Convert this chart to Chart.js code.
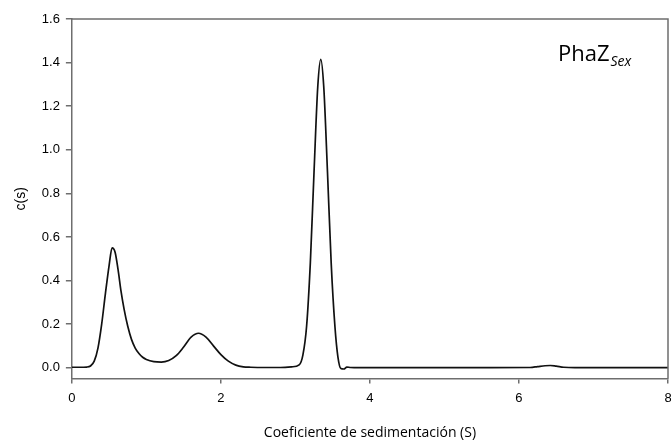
<!DOCTYPE html>
<html>
<head>
<meta charset="utf-8">
<script src="https://cdn.jsdelivr.net/npm/chart.js@4.4.1/dist/chart.umd.min.js"></script>
<style>
  html, body { margin: 0; padding: 0; background: #fff; }
  #wrap { width: 671px; height: 441px; }
</style>
</head>
<body>
<div id="wrap"><canvas id="myChart"></canvas></div>
<script>
// sedimentation coefficient (S) and c(s)
var sValues = [0.00, 0.10, 0.20, 0.25, 0.30, 0.35, 0.40, 0.45, 0.50, 0.54, 0.58, 0.62, 0.66, 0.70, 0.75, 0.80, 0.85, 0.90, 0.95, 1.00, 1.10, 1.20, 1.30, 1.40, 1.50, 1.60, 1.70, 1.80, 1.90, 2.00, 2.10, 2.20, 2.30, 2.40, 2.60, 2.80, 2.95, 3.05, 3.10, 3.15, 3.20, 3.25, 3.30, 3.34, 3.38, 3.43, 3.48, 3.53, 3.57, 3.61, 3.65, 3.69, 3.74, 3.85, 4.50, 5.50, 6.15, 6.25, 6.35, 6.42, 6.50, 6.60, 6.75, 7.50, 8.00];
var cValues = [0.002, 0.002, 0.003, 0.008, 0.03, 0.09, 0.20, 0.34, 0.47, 0.55, 0.53, 0.45, 0.35, 0.27, 0.19, 0.13, 0.09, 0.065, 0.048, 0.038, 0.028, 0.026, 0.033, 0.055, 0.095, 0.14, 0.158, 0.14, 0.10, 0.06, 0.03, 0.012, 0.004, 0.002, 0.001, 0.001, 0.004, 0.013, 0.058, 0.19, 0.48, 0.90, 1.29, 1.415, 1.29, 0.90, 0.48, 0.19, 0.05, -0.004, -0.006, 0.003, 0.001, 0.000, 0.000, 0.000, 0.001, 0.005, 0.009, 0.010, 0.007, 0.002, 0.000, 0.000, 0.000];

var xTicks = [0, 2, 4, 6, 8];
var yTicks = [0.0, 0.2, 0.4, 0.6, 0.8, 1.0, 1.2, 1.4, 1.6];

var axisGrey = '#6e6e6e';

// frame on top and right + the PhaZ(Sex) label
var framePlugin = {
    id: 'frame',
    afterDraw: function (chart) {
        var c = chart.ctx, a = chart.chartArea;
        c.save();
        c.strokeStyle = axisGrey;
        c.lineWidth = 1.5;
        c.beginPath();
        c.moveTo(a.left, a.top);
        c.lineTo(a.right, a.top);
        c.lineTo(a.right, a.bottom);
        c.stroke();
        c.fillStyle = '#000';
        c.textBaseline = 'alphabetic';
        c.font = '22px "Open Sans"';
        c.fillText('PhaZ', 558, 61);
        var w = c.measureText('PhaZ').width;
        c.font = 'italic 14px "Open Sans"';
        c.fillText('Sex', 558 + w + 1, 66);
        c.restore();
    }
};

var ctx = document.getElementById('myChart').getContext('2d');
var myChart = new Chart(ctx, {
    type: 'line',
    data: {
        datasets: [{
            data: sValues.map(function (s, i) { return { x: s, y: cValues[i] }; }),
            borderColor: '#111',
            borderWidth: 1.7,
            pointRadius: 0,
            fill: false,
            cubicInterpolationMode: 'monotone'
        }]
    },
    options: {
        responsive: true,
        maintainAspectRatio: false,
        animation: false,
        layout: { padding: { left: 13, top: 19, right: 3, bottom: 0 } },
        plugins: { legend: { display: false }, tooltip: { enabled: false } },
        scales: {
            x: {
                type: 'linear',
                min: 0,
                max: 8,
                afterBuildTicks: function (scale) { scale.ticks = xTicks.map(function (v) { return { value: v }; }); },
                // let the "8" run off the edge like the original
                afterFit: function (scale) { scale.paddingLeft = 0; scale.paddingRight = 0; },
                grid: { drawOnChartArea: false, drawTicks: true, tickLength: 5, color: axisGrey, lineWidth: 1.5 },
                border: { display: true, color: axisGrey, width: 1.5 },
                ticks: { color: '#000', font: { family: 'Liberation Sans', size: 13 }, padding: 7, maxRotation: 0 },
                title: { display: true, text: 'Coeficiente de sedimentación (S)', color: '#000', font: { family: 'Open Sans', size: 14 }, padding: { top: 11, bottom: 0 } }
            },
            y: {
                min: -0.05,
                max: 1.6,
                afterBuildTicks: function (scale) { scale.ticks = yTicks.map(function (v) { return { value: v }; }); },
                grid: { drawOnChartArea: false, drawTicks: true, tickLength: 6, color: axisGrey, lineWidth: 1.5 },
                border: { display: true, color: axisGrey, width: 1.5 },
                ticks: { color: '#000', font: { family: 'Liberation Sans', size: 13 }, padding: 6, callback: function (v) { return v.toFixed(1); } },
                title: { display: true, text: 'c(s)', color: '#000', font: { family: 'Liberation Sans', size: 14 }, padding: { top: 0, bottom: 6 } }
            }
        }
    },
    plugins: [framePlugin]
});
</script>
</body>
</html>
